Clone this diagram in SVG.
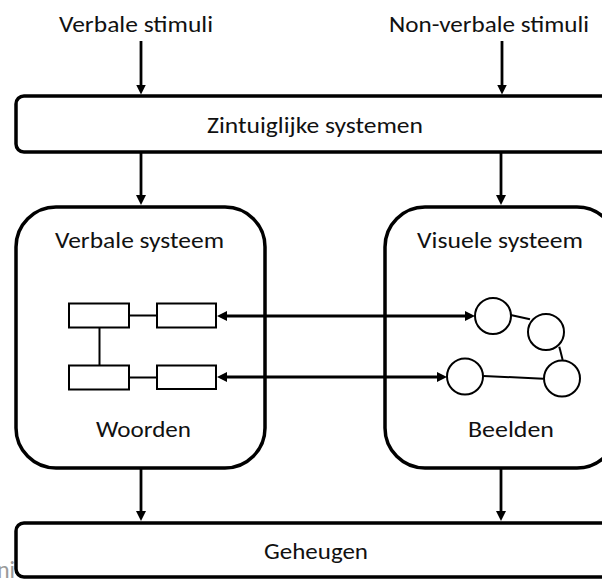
<svg xmlns="http://www.w3.org/2000/svg" width="602" height="579" viewBox="0 0 602 579">
  <style>
    .lbl { font-family: Calibri, Carlito, Lato, "Open Sans", sans-serif; font-size: 22px; fill: #111; }
    .box { fill: #fff; stroke: #000; stroke-width: 3.5; }
    .sm { fill: #fff; stroke: #000; stroke-width: 2; }
    .ln { stroke: #000; stroke-width: 2; fill: none; }
    .arr { stroke: #000; stroke-width: 2.8; fill: none; }
    .harr { stroke: #000; stroke-width: 3.2; fill: none; }
    .faint { font-family: Calibri, Carlito, Lato, "Open Sans", sans-serif; font-size: 24px; fill: #9a9a9a; }
  </style>
  <defs>
    <marker id="ah" viewBox="0 0 10 10" refX="2" refY="5" markerWidth="10" markerHeight="10" markerUnits="userSpaceOnUse" orient="auto-start-reverse">
      <path d="M0,0 L10,5 L0,10 z" fill="#000"/>
    </marker>
  </defs>
  <rect width="602" height="579" fill="#fff"/>

  <text class="faint" x="-3" y="578">ni</text>

  <g id="verbale-stimuli">
    <text class="lbl" x="59" y="32" textLength="154" lengthAdjust="spacingAndGlyphs">Verbale stimuli</text>
  </g>
  <g id="non-verbale-stimuli">
    <text class="lbl" x="389" y="32" textLength="200" lengthAdjust="spacingAndGlyphs">Non-verbale stimuli</text>
  </g>

  <g id="zintuiglijke-systemen">
    <rect class="box" x="16" y="96" width="600" height="56" rx="8"/>
    <text class="lbl" x="207" y="133" textLength="216" lengthAdjust="spacingAndGlyphs">Zintuiglijke systemen</text>
  </g>

  <g id="verbale-systeem">
    <rect class="box" x="16" y="207" width="249" height="261" rx="40"/>
    <text class="lbl" x="55" y="248" textLength="169" lengthAdjust="spacingAndGlyphs">Verbale systeem</text>
    <text class="lbl" x="96" y="437" textLength="95" lengthAdjust="spacingAndGlyphs">Woorden</text>
  </g>

  <g id="visuele-systeem">
    <rect class="box" x="385" y="207" width="232" height="261" rx="40"/>
    <text class="lbl" x="417" y="248" textLength="166" lengthAdjust="spacingAndGlyphs">Visuele systeem</text>
    <text class="lbl" x="468" y="437" textLength="86" lengthAdjust="spacingAndGlyphs">Beelden</text>
  </g>

  <g id="geheugen">
    <rect class="box" x="16" y="523" width="600" height="54" rx="8"/>
    <text class="lbl" x="264" y="559" textLength="104" lengthAdjust="spacingAndGlyphs">Geheugen</text>
  </g>

  <g id="woorden-netwerk">
    <line class="ln" x1="99.5" y1="327" x2="99.5" y2="365"/>
    <line class="ln" x1="129" y1="315.5" x2="157" y2="315.5"/>
    <line class="ln" x1="129" y1="377.5" x2="157" y2="377.5"/>
    <rect class="sm" x="69" y="303.5" width="60" height="24"/>
    <rect class="sm" x="157" y="303.5" width="59" height="24"/>
    <rect class="sm" x="69" y="365.5" width="60" height="24"/>
    <rect class="sm" x="157" y="365.5" width="59" height="23.5"/>
  </g>

  <g id="beelden-netwerk">
    <line class="ln" x1="510.7" y1="315" x2="530" y2="319.3"/>
    <line class="ln" x1="559.3" y1="346.7" x2="562.7" y2="360"/>
    <line class="ln" x1="483.3" y1="376" x2="543.3" y2="378.7"/>
    <circle class="sm" cx="493" cy="316" r="18"/>
    <circle class="sm" cx="546" cy="332" r="18"/>
    <circle class="sm" cx="562" cy="378.5" r="18"/>
    <circle class="sm" cx="465" cy="376.5" r="18"/>
  </g>

  <g id="connectors">
    <line class="arr" x1="141" y1="41" x2="141" y2="86.5" marker-end="url(#ah)"/>
    <line class="arr" x1="502" y1="41" x2="502" y2="86.5" marker-end="url(#ah)"/>
    <line class="arr" x1="141" y1="153" x2="141" y2="197" marker-end="url(#ah)"/>
    <line class="arr" x1="501" y1="153" x2="501" y2="197" marker-end="url(#ah)"/>
    <line class="arr" x1="141" y1="469" x2="141" y2="513" marker-end="url(#ah)"/>
    <line class="arr" x1="501" y1="469" x2="501" y2="513" marker-end="url(#ah)"/>
    <line class="harr" x1="225" y1="316" x2="467" y2="316" marker-start="url(#ah)" marker-end="url(#ah)"/>
    <line class="harr" x1="225" y1="377" x2="439" y2="377" marker-start="url(#ah)" marker-end="url(#ah)"/>
  </g>
</svg>
